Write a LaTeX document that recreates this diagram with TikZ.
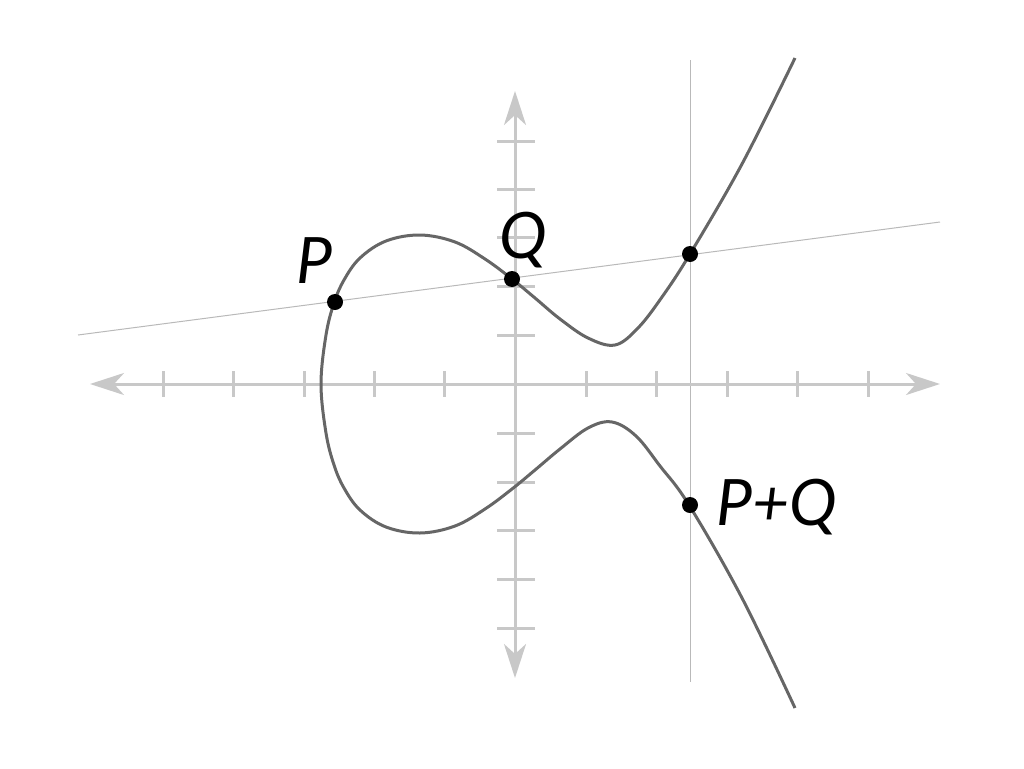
\documentclass[tikz,border=0pt]{standalone}
\usepackage{fontspec}
\setmainfont{Lato}
\usetikzlibrary{arrows.meta}
\definecolor{axisgray}{RGB}{200,200,200}
\definecolor{curvegray}{RGB}{102,102,102}
\definecolor{thingray}{RGB}{185,185,185}
\tikzset{
  axisline/.style={draw=axisgray, line width=3pt, {Stealth[length=34pt,width=22pt,inset=10pt]}-{Stealth[length=34pt,width=22pt,inset=10pt]}},
  tickline/.style={draw=axisgray, line width=3pt},
  thinline/.style={draw=thingray, line width=1pt},
  curveline/.style={draw=curvegray, line width=3pt, line join=round},
  lab/.style={inner sep=0pt, font=\fontsize{64}{70}\selectfont\itshape},
}
\begin{document}
\begin{tikzpicture}[x=1pt,y=-1pt]
\useasboundingbox (0,0) rectangle (1024,768);
% free ends
\coordinate (chordL) at (78,335);
\coordinate (chordR) at (940,222);
\coordinate (vertT) at (690,60);
\coordinate (vertB) at (690,682);
\coordinate (xL) at (90,384);
\coordinate (xR) at (940,384);
\coordinate (yT) at (515,91);
\coordinate (yB) at (515,678);
% points
\coordinate (P) at (335,302);
\coordinate (Q) at (512,279);
\coordinate (R) at (690,254);
\coordinate (PQ) at (690,505);
% thin lines
\draw[thinline] (chordL) -- (chordR);
\draw[thinline] (vertT) -- (vertB);
% axes
\draw[axisline] (xL) -- (xR);
\draw[axisline] (yB) -- (yT);
\foreach \x in {163,233,304,374,444,586,656,727,797,868}
  \draw[tickline] (\x,371) -- (\x,397);
\foreach \y in {141,189,237,286,335,433,482,530,579,628}
  \draw[tickline] (497,\y) -- (535,\y);
% curve
\draw[curveline] plot[smooth, tension=0.6] coordinates {
 (795,58) (742,164) (690,254) (662,297) (638,328) (615,345)
 (588,338) (560,319) (535,298) (512,279) (485,259) (455,242) (420,235) (386,241)
 (360,258) (344,280) (334,303) (326,335) (321,384) (326,433) (334,465) (344,488)
 (360,510) (386,527) (420,533) (455,526) (485,509) (512,489) (535,470) (560,449)
 (588,428) (612,422) (636,436) (660,466) (689,505) (742,598) (795,708)};
% dots
\fill (P) circle (8pt);
\fill (Q) circle (8pt);
\fill (R) circle (8pt);
\fill (PQ) circle (8pt);
% labels
\node[lab, anchor=base west] (lP) at (296,283) {P};
\node[lab, anchor=base west] (lQ) at (499,258) {Q};
\node[lab, anchor=base west] (lPQ) at (716,525) {P+Q};
\end{tikzpicture}
\end{document}
